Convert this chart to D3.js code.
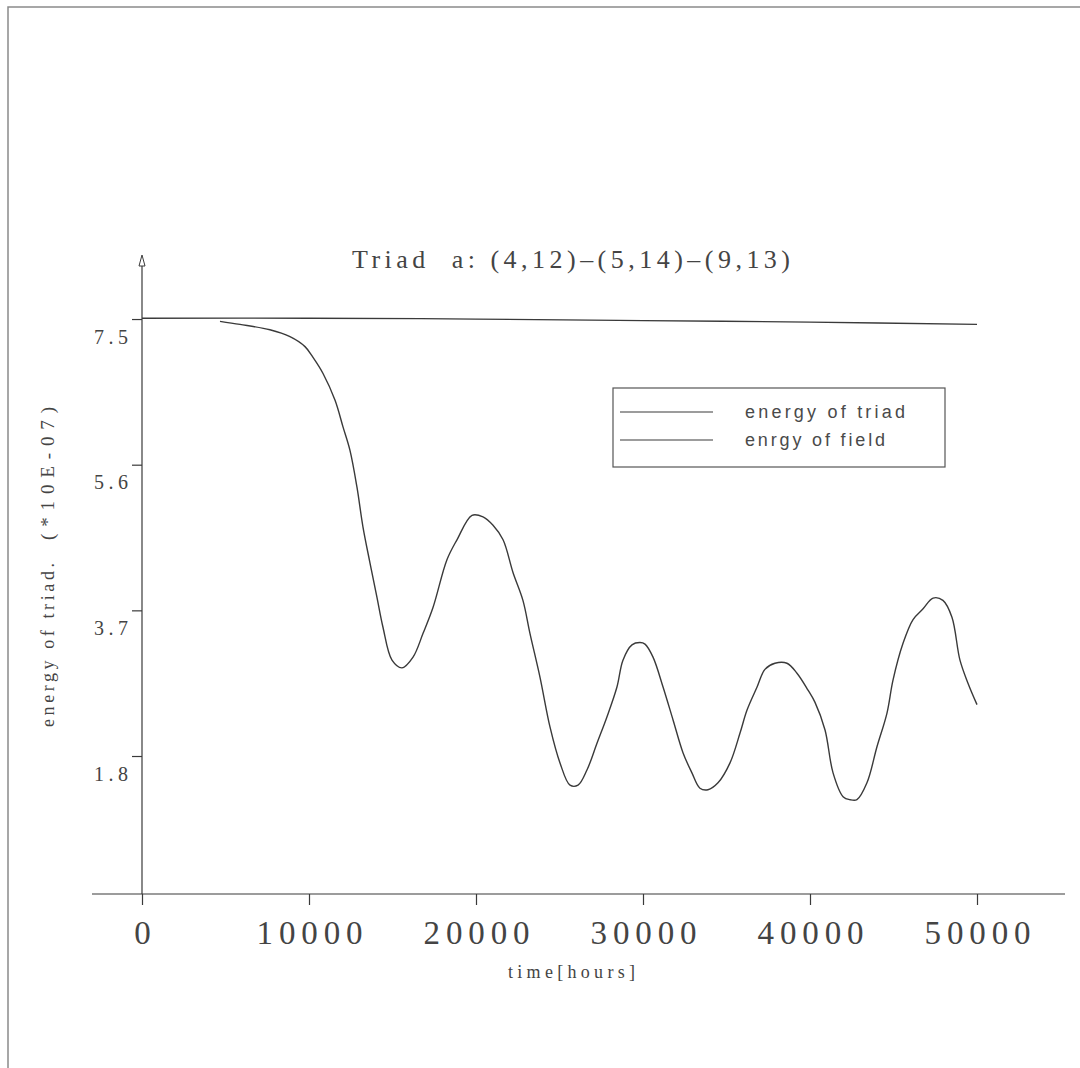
<!DOCTYPE html>
<html>
<head>
<meta charset="utf-8">
<script src="https://cdn.jsdelivr.net/npm/d3@7"></script>
<style>
  html, body { margin: 0; padding: 0; background: #fff; }
  svg { display: block; }
  .serif { font-family: "Liberation Serif", "DejaVu Serif", serif; fill: #444; }
  .sans { font-family: "Liberation Sans", Arial, sans-serif; fill: #4a4a4a; }
</style>
</head>
<body>
<div id="chart"></div>
<script>
// values
const xTicks = [0, 10000, 20000, 30000, 40000, 50000]
const yTicks = [1.8, 3.7, 5.6, 7.5]

const fieldTime = [0, 10000, 20000, 30000, 40000, 50000]
const fieldEnergy = [7.51, 7.51, 7.50, 7.48, 7.46, 7.43]

const triadTime = [4670, 5870, 7660, 8860, 9760, 10240, 10840, 11560, 12040, 12450,
  12870, 13230, 13650, 14070, 14430, 14970, 15570, 16230, 16830, 17430,
  18260, 18860, 19760, 20420, 21020, 21620, 22220, 22810, 23230, 23830,
  24430, 25030, 25630, 26110, 26650, 27250, 27840, 28440, 28800, 29340,
  29820, 30120, 30600, 31200, 31800, 32400, 32930, 33410, 33890, 34490,
  35210, 35810, 36230, 36830, 37300, 37900, 38620, 39220, 39880, 40300,
  40900, 41380, 41980, 42400, 42810, 43410, 44010, 44610, 44970, 45570,
  46170, 46770, 47370, 47960, 48500, 48980, 49460, 50000]
const triadEnergy = [7.47, 7.43, 7.36, 7.27, 7.14, 7.00, 6.79, 6.44, 6.09, 5.79,
  5.31, 4.79, 4.32, 3.87, 3.48, 3.05, 2.95, 3.09, 3.40, 3.74,
  4.36, 4.62, 4.94, 4.92, 4.81, 4.62, 4.19, 3.83, 3.40, 2.83,
  2.18, 1.71, 1.42, 1.42, 1.62, 1.97, 2.31, 2.70, 3.05, 3.25,
  3.28, 3.26, 3.09, 2.70, 2.27, 1.84, 1.58, 1.38, 1.36, 1.45,
  1.71, 2.10, 2.40, 2.70, 2.93, 3.01, 3.01, 2.88, 2.66, 2.50,
  2.14, 1.58, 1.27, 1.23, 1.23, 1.45, 1.92, 2.36, 2.79, 3.27,
  3.58, 3.72, 3.86, 3.83, 3.61, 3.05, 2.75, 2.47]

const legendLabels = ["energy of triad", "enrgy of field"]

const width = 1080, height = 1068
const ink = "#3a3a3a"

const svg = d3.select("#chart").append("svg")
  .attr("width", width)
  .attr("height", height)

// scanned page frame (top and left edges only)
svg.append("path")
  .attr("d", "M8,1068 L8,7 L1080,7")
  .attr("fill", "none")
  .attr("stroke", "#8a8a8a")
  .attr("stroke-width", 1.5)

const x = d3.scaleLinear().domain([0, 50000]).range([142, 977])
const y = d3.scaleLinear().domain([0, 8.27]).range([894, 260])

// x axis
const xAxis = svg.append("g")
  .attr("transform", `translate(0,${y(0)})`)
  .call(d3.axisBottom(x).tickValues(xTicks).tickSize(11).tickSizeOuter(0).tickFormat(d3.format("d")))

xAxis.select(".domain").remove()
xAxis.append("line")
  .attr("x1", 92).attr("x2", 1065)
  .attr("stroke", ink).attr("stroke-width", 1.2)
xAxis.selectAll(".tick line").attr("stroke", ink).attr("stroke-width", 1.2)
xAxis.selectAll(".tick text")
  .attr("class", "serif")
  .attr("y", 0)
  .attr("dy", 50)
  .style("font-size", "33px")
  .attr("fill", "#444")
  .each(function(d) {
    if (d !== 0) d3.select(this).attr("textLength", 106).attr("lengthAdjust", "spacing")
  })

// y axis
const yAxis = svg.append("g")
  .attr("transform", `translate(${x(0)},0)`)
  .call(d3.axisLeft(y).tickValues(yTicks).tickSize(10).tickSizeOuter(0).tickFormat(d3.format(".1f")))

yAxis.select(".domain").remove()
yAxis.append("line")
  .attr("y1", y(0)).attr("y2", 266)
  .attr("stroke", ink).attr("stroke-width", 1.2)
yAxis.append("path")
  .attr("d", "M0,255 L-3,266 L3,266 Z")
  .attr("fill", "none").attr("stroke", ink).attr("stroke-width", 1)
yAxis.selectAll(".tick line").attr("stroke", ink).attr("stroke-width", 1.2)
yAxis.selectAll(".tick text")
  .attr("class", "serif")
  .attr("x", -14)
  .attr("dy", 24)
  .style("font-size", "20px")
  .attr("fill", "#444")
  .attr("textLength", 34)
  .attr("lengthAdjust", "spacing")

// curves
const line = d3.line()
  .x(d => x(d[0]))
  .y(d => y(d[1]))
  .curve(d3.curveCatmullRom.alpha(0.5))

svg.append("path")
  .datum(d3.zip(fieldTime, fieldEnergy))
  .attr("d", line)
  .attr("fill", "none")
  .attr("stroke", ink)
  .attr("stroke-width", 1.3)

svg.append("path")
  .datum(d3.zip(triadTime, triadEnergy))
  .attr("d", line)
  .attr("fill", "none")
  .attr("stroke", ink)
  .attr("stroke-width", 1.4)
  .attr("stroke-linejoin", "round")

// title
svg.append("text")
  .attr("class", "serif")
  .attr("x", 352).attr("y", 268)
  .attr("textLength", 438).attr("lengthAdjust", "spacing")
  .style("font-size", "26px")
  .style("white-space", "pre")
  .text("Triad  a: (4,12)\u2013(5,14)\u2013(9,13)")

// axis titles
svg.append("text")
  .attr("class", "serif")
  .attr("x", 508).attr("y", 978)
  .attr("textLength", 127).attr("lengthAdjust", "spacing")
  .style("font-size", "18px")
  .text("time[hours]")

svg.append("text")
  .attr("class", "serif")
  .attr("transform", "translate(54,727) rotate(-90)")
  .attr("textLength", 164).attr("lengthAdjust", "spacing")
  .style("font-size", "18px")
  .text("energy of triad.")

svg.append("text")
  .attr("class", "serif")
  .attr("transform", "translate(54,540) rotate(-90)")
  .attr("textLength", 133).attr("lengthAdjust", "spacing")
  .style("font-size", "19px")
  .text("(*10E-07)")

// legend
const legend = svg.append("g").attr("transform", "translate(613,388)")

legend.append("rect")
  .attr("width", 332).attr("height", 79)
  .attr("fill", "#fff")
  .attr("stroke", "#555").attr("stroke-width", 1.2)

const legendRows = legend.selectAll("g.row")
  .data(legendLabels)
  .enter().append("g")
  .attr("class", "row")
  .attr("transform", (d, i) => `translate(0,${24 + i * 28})`)

legendRows.append("line")
  .attr("x1", 7).attr("x2", 100)
  .attr("stroke", ink).attr("stroke-width", 1.2)

legendRows.append("text")
  .attr("class", "sans")
  .attr("x", 132).attr("y", 6)
  .style("font-size", "18px")
  .attr("textLength", (d, i) => i === 0 ? 160 : 140)
  .attr("lengthAdjust", "spacing")
  .text(d => d)
</script>
</body>
</html>
